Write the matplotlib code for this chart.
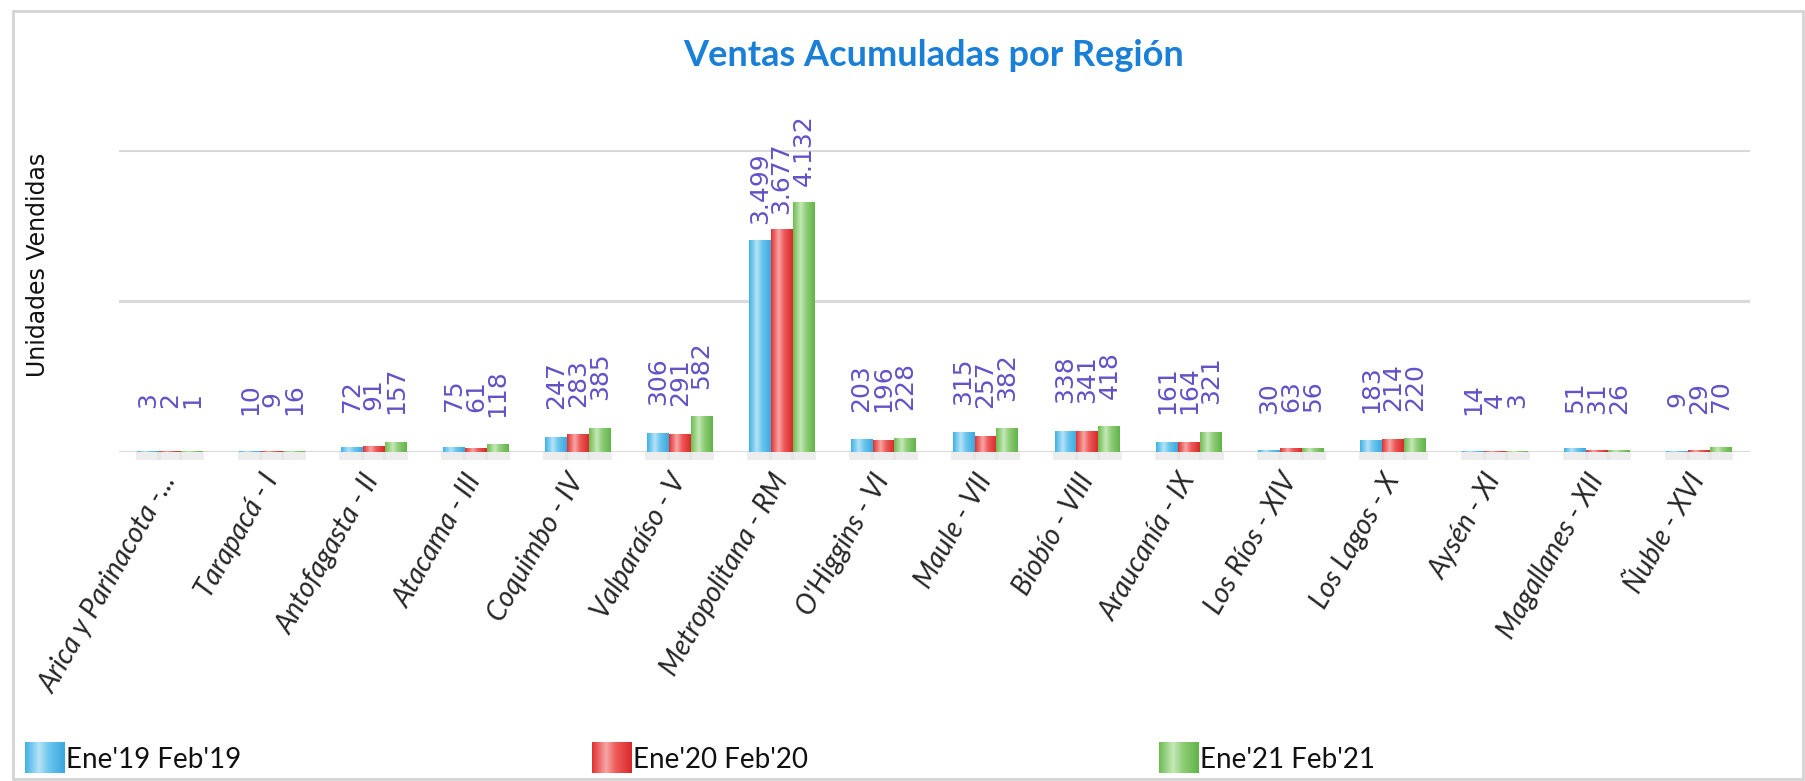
import numpy as np
import matplotlib
matplotlib.use('agg')
import matplotlib.pyplot as plt
from matplotlib.colors import LinearSegmentedColormap
from matplotlib.patches import Rectangle

# datos
regiones = ['Arica y Parinacota -...', 'Tarapacá - I', 'Antofagasta - II', 'Atacama - III',
            'Coquimbo - IV', 'Valparaíso - V', 'Metropolitana - RM', "O'Higgins - VI",
            'Maule - VII', 'Biobío - VIII', 'Araucanía - IX', 'Los Ríos - XIV',
            'Los Lagos - X', 'Aysén - XI', 'Magallanes - XII', 'Ñuble - XVI']
series = ["Ene'19 Feb'19", "Ene'20 Feb'20", "Ene'21 Feb'21"]
ventas_19 = [3, 10, 72, 75, 247, 306, 3499, 203, 315, 338, 161, 30, 183, 14, 51, 9]
ventas_20 = [2, 9, 91, 61, 283, 291, 3677, 196, 257, 341, 164, 63, 214, 4, 31, 29]
ventas_21 = [1, 16, 157, 118, 385, 582, 4132, 228, 382, 418, 321, 56, 220, 3, 26, 70]
grid_ticks = [0, 2500, 5000]

# colores: borde, brillo, medio, borde
gradientes = [
    ['#3fb2e6', '#b5e3f8', '#6cc6ee', '#3aa9de'],
    ['#e23232', '#f8a5a5', '#ee5a5a', '#d92a2a'],
    ['#6dbd52', '#c6e8b8', '#8fce78', '#62b348'],
]
LABEL_COLOR = '#6352c8'
CAL = ['Lato', 'DejaVu Sans']


def cmap_for(cols):
    return LinearSegmentedColormap.from_list('g', list(zip([0, 0.35, 0.6, 1], cols)))


fig = plt.figure(figsize=(18.05, 7.81), dpi=100)
W, H = 1805, 781
ax = fig.add_axes([119 / W, 1 - 452 / H, (1750 - 119) / W, (452 - 150) / H])

# marco del grafico
fig.patches.append(Rectangle((13 / W, 2 / H), (1803 - 13) / W, (770 - 2) / H,
                             transform=fig.transFigure, fill=False,
                             edgecolor='#d4d4d4', linewidth=2))

x = np.arange(len(regiones))
bw = 0.215
grad = np.linspace(0, 1, 64).reshape(1, -1)

for i, vals in enumerate([ventas_19, ventas_20, ventas_21]):
    pos = x + (i - 1) * bw
    bars = ax.bar(pos, vals, width=bw, color=gradientes[i][2], zorder=2, label=series[i])
    cm = cmap_for(gradientes[i])
    for b in bars:
        if b.get_height() <= 0:
            continue
        ax.imshow(grad, cmap=cm, aspect='auto', zorder=3, interpolation='bilinear',
                  extent=[b.get_x(), b.get_x() + b.get_width(), 0, b.get_height()])
        # sombra bajo la barra
        ax.add_patch(Rectangle((b.get_x() - 0.015, -130), b.get_width() + 0.03, 130,
                               facecolor='#e2e2e2', edgecolor='none', alpha=0.6,
                               zorder=1, clip_on=False))
    for p, v in zip(pos, vals):
        ax.annotate(f'{v:,}'.replace(',', '.'), (p, v), xytext=(0, 37.5),
                    textcoords='offset points', rotation=90, ha='center', va='center',
                    fontsize=18, color=LABEL_COLOR, annotation_clip=False, zorder=5)

ax.set_xlim(-0.5, len(regiones) - 0.5)
ax.set_ylim(0, 5000)
ax.set_yticks(grid_ticks)
ax.set_yticklabels([])
ax.tick_params(axis='y', length=0)
ax.grid(axis='y', color='#d9d9d9', linewidth=2.2, zorder=0)
ax.set_axisbelow(True)
for s in ax.spines.values():
    s.set_visible(False)

ax.set_xticks(x)
ax.set_xticklabels(regiones, rotation=60, ha='right', va='center', rotation_mode='anchor',
                   fontsize=20, style='italic', color='#262626', family=CAL)
ax.tick_params(axis='x', length=0, pad=17)

fig.text(38 / W, 1 - 265 / H, 'Unidades Vendidas', rotation=90, ha='center', va='center',
         fontsize=17, color='#111111')
fig.text(934 / W, 1 - 55 / H, 'Ventas Acumuladas por Región', ha='center', va='center',
         fontsize=26, fontweight='bold', color='#1a7fd6', family=CAL)

# leyenda
for i, lx in enumerate([25, 592, 1159]):
    sw = fig.add_axes([lx / W, 1 - 773 / H, 40 / W, 31 / H])
    sw.imshow(grad, cmap=cmap_for(gradientes[i]), aspect='auto', interpolation='bilinear')
    sw.set_axis_off()
    fig.text((lx + 41) / W, 1 - 760 / H, series[i], ha='left', va='center',
             fontsize=20, color='#111111', family=CAL)

fig.savefig('out.png', dpi=100)
